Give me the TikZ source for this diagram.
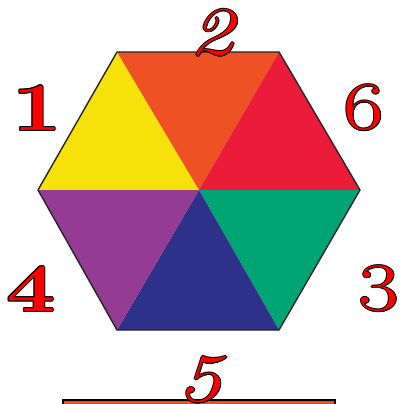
\documentclass[tikz,border=0pt]{standalone}
\begin{document}
\begin{tikzpicture}[x=1pt,y=-1pt,
  hexline/.style={draw=black!85,line width=1.4pt,line join=round},
  digit/.style={inner sep=0pt,font=\fontsize{68}{68}\selectfont,xscale=1.3,transform shape},
  baseband/.style={fill=bandorange,draw=black,line width=2pt}]
\definecolor{cyel}{HTML}{F6E10A}
\definecolor{corg}{HTML}{EE5224}
\definecolor{cred}{HTML}{EA1C3A}
\definecolor{cgrn}{HTML}{00A573}
\definecolor{cblu}{HTML}{2E3189}
\definecolor{cpur}{HTML}{943B93}
\definecolor{bandorange}{HTML}{E8502C}
\definecolor{dred}{HTML}{FF0000}
\useasboundingbox (0,0) rectangle (403,404);
\clip (0,0) rectangle (403,404);
\fill[white] (0,0) rectangle (403,404);
\coordinate (O) at (199,190);
\coordinate (TL) at (117,52);
\coordinate (TR) at (279,52);
\coordinate (R) at (360,190);
\coordinate (BR) at (279,330);
\coordinate (BL) at (117,330);
\coordinate (L) at (38,190);
\fill[cyel] (O) -- (L) -- (TL) -- cycle;
\fill[corg] (O) -- (TL) -- (TR) -- cycle;
\fill[cred] (O) -- (TR) -- (R) -- cycle;
\fill[cgrn] (O) -- (R) -- (BR) -- cycle;
\fill[cblu] (O) -- (BR) -- (BL) -- cycle;
\fill[cpur] (O) -- (BL) -- (L) -- cycle;
\draw[hexline] (TL) -- (TR) -- (R) -- (BR) -- (BL) -- (L) -- cycle;
\draw[baseband] (63,400) rectangle (335,420);
\newcommand{\outdigit}[3]{%
  \foreach \dx/\dy in {-1/0,1/0,0/-1,0/1,-0.7/-0.7,0.7/0.7,-0.7/0.7,0.7/-0.7}{
    \node[digit,text=black] at ([shift={(\dx,\dy)}]#1) {#3};}
  \node[digit,text=dred] (#2) at (#1) {#3};}
\outdigit{37,108}{n1}{\bfseries 1}
\outdigit{212,33}{n2}{\itshape 2}
\outdigit{364,108}{n6}{6}
\outdigit{31,289}{n4}{\bfseries 4}
\outdigit{379,289}{n3}{3}
\outdigit{200,380}{n5}{\itshape 5}
\end{tikzpicture}
\end{document}
